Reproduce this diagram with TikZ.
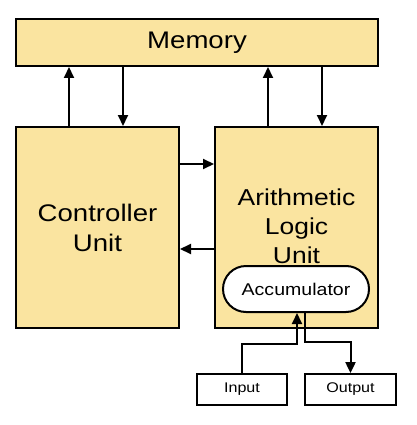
\documentclass[tikz,border=0pt]{standalone}
\usepackage{fontspec}
\setmainfont{Liberation Sans}[FakeStretch=1.15]
\usetikzlibrary{arrows.meta,shapes.misc}
\definecolor{unitfill}{RGB}{250,228,160}
\tikzset{
  unitbox/.style={draw, line width=2pt, fill=unitfill, align=center, inner sep=0pt},
  iobox/.style={draw, line width=1.8pt, fill=white, inner sep=0pt, minimum width=90pt, minimum height=31pt,
    font=\fontsize{14}{16}\selectfont},
  arr/.style={line width=2pt, -{Triangle[length=11pt,width=10pt]}}
}
\begin{document}
\begin{tikzpicture}[x=1pt, y=-1pt]
  \useasboundingbox (0,0) rectangle (416,425);
  % Speicher oben
  \node[unitbox, minimum width=362pt, minimum height=47pt, font=\fontsize{24}{28}\selectfont] (mem) at (197,42.5) {Memory};
  % Steuerwerk und Rechenwerk
  \node[unitbox, minimum width=163pt, minimum height=201pt, font=\fontsize{24}{30}\selectfont] (ctrl) at (97.5,227.5) {Controller\\Unit};
  \node[unitbox, minimum width=163pt, minimum height=201pt] (alu) at (296.5,227.5) {};
  \node[align=center, inner sep=0pt, font=\fontsize{23}{29}\selectfont] (alutext) at (296.5,226) {Arithmetic\\Logic\\Unit};
  \node[draw, line width=2pt, fill=white, rounded rectangle, minimum width=146pt, minimum height=46pt,
    inner sep=0pt, font=\fontsize{17}{20}\selectfont] (acc) at (296,289) {Accumulator};
  % Ein- und Ausgabe
  \node[iobox] (in) at (242,389.5) {Input};
  \node[iobox, minimum width=91pt] (out) at (350.5,389.5) {Output};
  % Pfeile Speicher <-> Werke
  \draw[arr] ([xshift=54pt]ctrl.north west) -- ([xshift=54pt]ctrl.north west |- mem.south);
  \draw[arr] ([xshift=108pt]ctrl.north west |- mem.south) -- ([xshift=108pt]ctrl.north west);
  \draw[arr] ([xshift=54pt]alu.north west) -- ([xshift=54pt]alu.north west |- mem.south);
  \draw[arr] ([xshift=108pt]alu.north west |- mem.south) -- ([xshift=108pt]alu.north west);
  % Pfeile zwischen den Werken
  \draw[arr] ([yshift=-38pt]ctrl.north east) -- ([yshift=-38pt]ctrl.north east -| alu.west);
  \draw[arr] ([yshift=-123pt]alu.north west) -- ([yshift=-123pt]alu.north west -| ctrl.east);
  % Akkumulator <-> Ein-/Ausgabe
  \draw[arr] (in.north) |- ([xshift=1pt,yshift=-31pt]acc.south) -- ([xshift=1pt]acc.south);
  \draw[arr] ([xshift=9pt]acc.south) |- ([yshift=31pt]out.north) -- (out.north);
\end{tikzpicture}
\end{document}
